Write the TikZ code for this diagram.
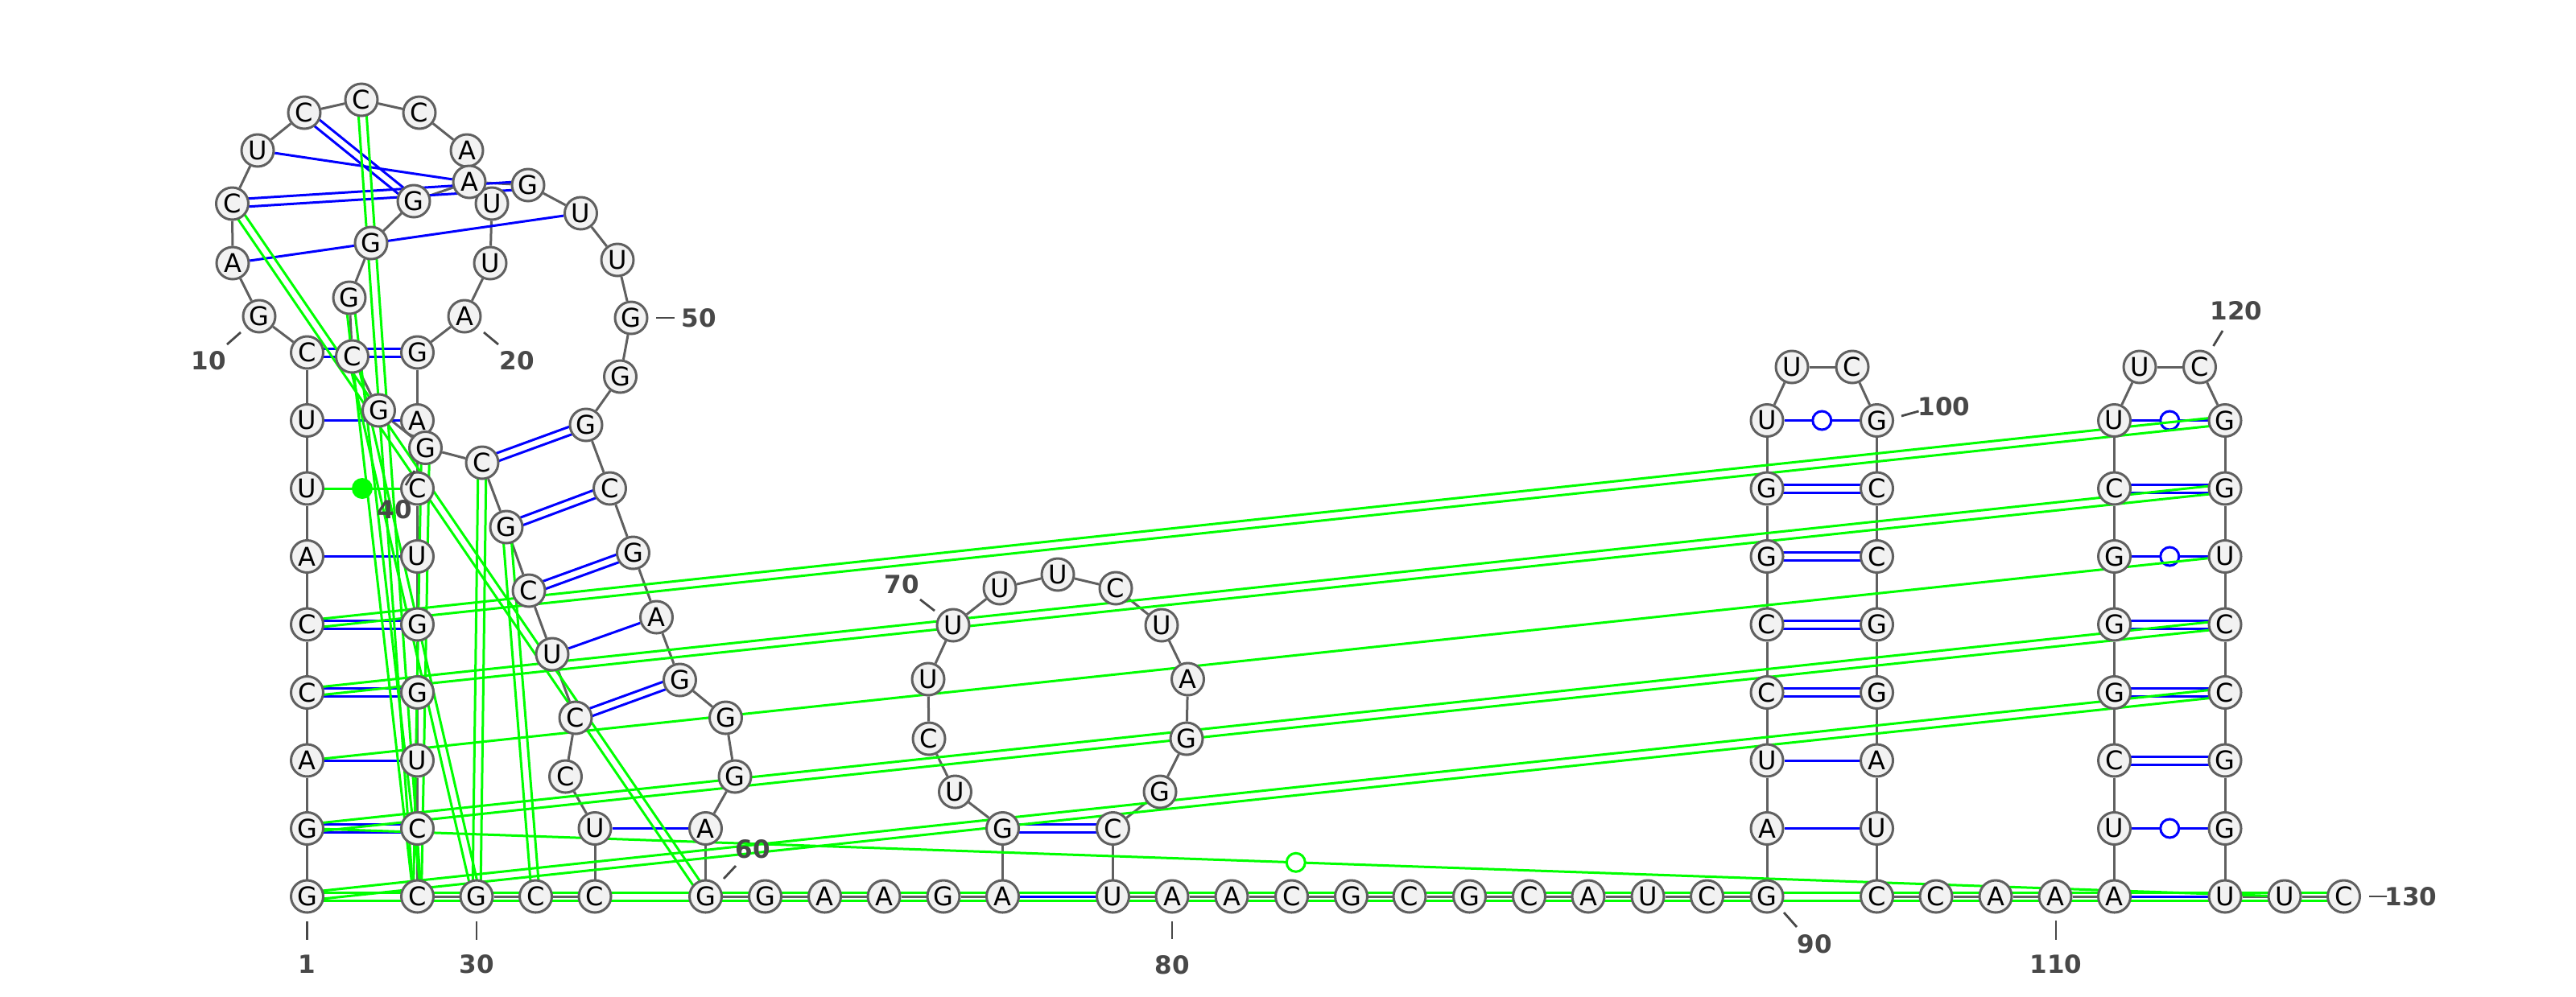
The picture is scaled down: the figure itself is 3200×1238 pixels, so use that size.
\documentclass[tikz,border=0pt]{standalone}
\usepackage{fontspec}
\setmainfont{DejaVu Sans}
\usetikzlibrary{calc}
\pgfdeclarelayer{backbonelayer}
\pgfdeclarelayer{bluelayer}
\pgfdeclarelayer{greenlayer}
\pgfdeclarelayer{toplayer}
\pgfsetlayers{backbonelayer,bluelayer,greenlayer,main,toplayer}
\definecolor{edgegray}{HTML}{606060}
\definecolor{basefill}{HTML}{F2F2F2}
\definecolor{labgray}{HTML}{484848}
\definecolor{pairblue}{HTML}{0000FF}
\definecolor{pairgreen}{HTML}{00FF00}
\tikzset{
  base/.style={circle,draw=edgegray,fill=basefill,line width=1.5pt,minimum size=20pt,inner sep=0pt,font=\fontsize{16}{16}\selectfont},
  backbone/.style={draw=edgegray,line width=1.5pt},
  pairline/.style={line width=1.5pt},
  opendot/.style={circle,fill=white,line width=1.5pt,minimum size=11.5pt,inner sep=0pt,solid},
  soliddot/.style={circle,fill=pairgreen,draw=none,minimum size=13pt,inner sep=0pt},
  numlab/.style={text=labgray,font=\bfseries\fontsize{15.5}{17}\selectfont,inner sep=0pt},
  numtick/.style={draw=labgray,line width=1.4pt},
}
\newcommand{\dbl}[3]{\draw[pairline,#1] ($(n#2)!5*0.5pt!90:(n#3)$) -- ($(n#3)!5*0.5pt!-90:(n#2)$);
  \draw[pairline,#1] ($(n#2)!5*0.5pt!-90:(n#3)$) -- ($(n#3)!5*0.5pt!90:(n#2)$);}
\newcommand{\sgl}[3]{\draw[pairline,#1] (n#2) -- (n#3);}
\newcommand{\wob}[3]{\draw[pairline,#1] (n#2) -- node[opendot,draw=#1] (w#2) {} (n#3);}
\newcommand{\lab}[7]{\node[numlab] (lab#1) at (#2,#3) {#1};
  \coordinate (ta#1) at (#4,#5); \coordinate (tb#1) at (#6,#7);
  \draw[numtick] (ta#1) -- (tb#1);}
\begin{document}
\begin{tikzpicture}[x=0.5pt,y=-0.5pt]
\useasboundingbox (0,0) rectangle (3200,1238);
\foreach \i/\x/\y/\l in {
1/381.5/1114/G,2/381.5/1029.5/G,3/381.5/945/A,4/381.5/860.5/C,5/381.5/776/C,6/381.5/691.5/A,7/381.5/607/U,8/381.5/522.5/U,9/381.5/438/C,
10/322/393/G,11/289/327/A,12/288.5/253/C,13/320/187/U,14/378/140/C,15/449/124/C,16/521/140/C,17/580/187/A,18/611/253/U,19/609/327/U,20/577/393/A,
21/518.5/438/G,22/518.5/522.5/A,23/518.5/607/C,24/518.5/691.5/U,25/518.5/776/G,26/518.5/860.5/G,27/518.5/945/U,28/518.5/1029.5/C,29/518.5/1114/C,
30/592/1114/G,31/665.5/1114/C,32/739/1114/C,33/739/1029.5/U,34/702.5/965/C,35/715/892/C,36/686/813/U,37/657/734/C,38/629/655/G,39/599/575/C,
40/528.5/556.5/G,41/470.5/510/G,42/437.5/443/C,43/434/370/G,44/461/302/G,45/514/250/G,46/583/226/A,47/656/230/G,48/721.5/265/U,49/767/323/U,50/784/395/G,
51/770.5/468/G,52/728/528/G,53/757.5/607/C,54/786.5/687/G,55/815.5/767/A,56/844.5/845/G,57/901.5/892/G,58/913/965/G,59/876.5/1029.5/A,60/876.5/1114/G,
61/950.5/1114/G,62/1024.5/1114/A,63/1098/1114/A,64/1172/1114/G,65/1245.5/1114/A,66/1245.5/1029.5/G,67/1186.5/984/U,68/1154/918/C,69/1153/844/U,70/1184/777/U,
71/1242/731/U,72/1314/714/U,73/1386/731/C,74/1443/777/U,75/1475.5/844/A,76/1474/918/G,77/1441/984/G,78/1382.5/1029.5/C,79/1382.5/1114/U,80/1456/1114/A,
81/1530/1114/A,82/1604.5/1114/C,83/1678.5/1114/G,84/1751/1114/C,85/1825.5/1114/G,86/1899.5/1114/C,87/1973/1114/A,88/2047/1114/U,89/2120.5/1114/C,90/2195/1114/G,
91/2195/1029.5/A,92/2195/945/U,93/2195/860.5/C,94/2195/776/C,95/2195/691.5/G,96/2195/607/G,97/2195/522.5/U,98/2226/456/U,99/2301/456/C,100/2331.5/522.5/G,
101/2331.5/607/C,102/2331.5/691.5/C,103/2331.5/776/G,104/2331.5/860.5/G,105/2331.5/945/A,106/2331.5/1029.5/U,107/2331.5/1114/C,108/2405/1114/C,109/2479/1114/A,110/2553/1114/A,
111/2626.5/1114/A,112/2626.5/1029.5/U,113/2626.5/945/C,114/2626.5/860.5/G,115/2626.5/776/G,116/2626.5/691.5/G,117/2626.5/607/C,118/2626.5/522.5/U,119/2658/456/U,120/2732.5/456/C,
121/2764/522.5/G,122/2764/607/G,123/2764/691.5/U,124/2764/776/C,125/2764/860.5/C,126/2764/945/G,127/2764/1029.5/G,128/2764/1114/U,129/2838/1114/U,130/2911.5/1114/C}
{ \node[base] (n\i) at (\x,\y) {\l}; }

\begin{pgfonlayer}{backbonelayer}
\foreach \i [evaluate=\i as \j using int(\i+1)] in {1,...,129} { \draw[backbone] (n\i) -- (n\j); }
\end{pgfonlayer}

\begin{pgfonlayer}{bluelayer}
\dbl{pairblue}{2}{28} \sgl{pairblue}{3}{27} \dbl{pairblue}{4}{26} \dbl{pairblue}{5}{25}
\sgl{pairblue}{6}{24} \sgl{pairblue}{8}{22} \dbl{pairblue}{9}{21}
\sgl{pairblue}{11}{48} \dbl{pairblue}{12}{47} \sgl{pairblue}{13}{46} \dbl{pairblue}{14}{45}
\sgl{pairblue}{33}{59} \dbl{pairblue}{35}{56} \sgl{pairblue}{36}{55} \dbl{pairblue}{37}{54}
\dbl{pairblue}{38}{53} \dbl{pairblue}{39}{52}
\sgl{pairblue}{65}{79} \dbl{pairblue}{66}{78}
\sgl{pairblue}{91}{106} \sgl{pairblue}{92}{105} \dbl{pairblue}{93}{104} \dbl{pairblue}{94}{103}
\dbl{pairblue}{95}{102} \dbl{pairblue}{96}{101} \wob{pairblue}{97}{100}
\sgl{pairblue}{111}{128} \wob{pairblue}{112}{127} \dbl{pairblue}{113}{126} \dbl{pairblue}{114}{125}
\dbl{pairblue}{115}{124} \wob{pairblue}{116}{123} \dbl{pairblue}{117}{122} \wob{pairblue}{118}{121}
\end{pgfonlayer}

\begin{pgfonlayer}{greenlayer}
\dbl{pairgreen}{1}{130} \dbl{pairgreen}{1}{125} \dbl{pairgreen}{2}{124} \sgl{pairgreen}{3}{123}
\dbl{pairgreen}{4}{122} \dbl{pairgreen}{5}{121}
\wob{pairgreen}{2}{129}
\draw[pairline,pairgreen] (n7) -- node[soliddot] (d7) {} (n23);
\dbl{pairgreen}{12}{60} \dbl{pairgreen}{15}{29} \dbl{pairgreen}{40}{29} \dbl{pairgreen}{43}{29}
\dbl{pairgreen}{42}{30} \dbl{pairgreen}{39}{30} \dbl{pairgreen}{38}{31}
\end{pgfonlayer}

\begin{pgfonlayer}{toplayer}
\lab{1}{381.5}{1198}{381.5}{1145}{381.5}{1168}
\lab{10}{259}{448}{299}{413}{282}{428}
\lab{20}{642}{448}{601}{413}{619}{428}
\lab{30}{592}{1198}{592}{1145}{592}{1168}
\lab{40}{490}{633}{515}{585}{504}{603}
\lab{50}{868}{395}{815}{395}{837.5}{395}
\lab{60}{935}{1055}{914}{1076}{899}{1092}
\lab{70}{1120}{726}{1143}{745}{1161}{759}
\lab{80}{1456}{1199}{1456}{1145}{1456}{1167}
\lab{90}{2254}{1173}{2216}{1134}{2232}{1152}
\lab{100}{2415}{505}{2362}{517}{2383.5}{511}
\lab{110}{2554}{1198}{2554}{1144}{2554}{1168}
\lab{120}{2778}{386}{2761}{411}{2749.5}{430}
\lab{130}{2995}{1114}{2943}{1114}{2965}{1114}
\end{pgfonlayer}
\end{tikzpicture}
\end{document}
